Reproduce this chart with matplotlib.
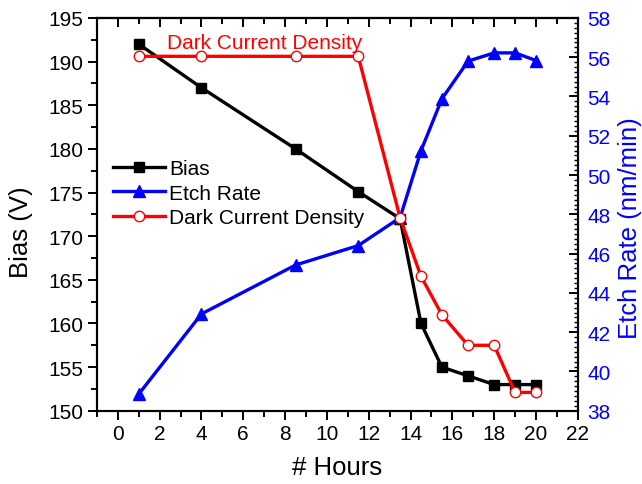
import numpy as np
import matplotlib
matplotlib.use("Agg")
import matplotlib.pyplot as plt
from matplotlib.ticker import MultipleLocator

plt.rcParams["font.family"] = ["Liberation Sans", "DejaVu Sans"]

hours = [1, 4, 8.5, 11.5, 13.5, 14.5, 15.5, 16.75, 18, 19, 20]
bias = [192, 187, 180, 175.1, 172, 160, 155, 154, 153, 153, 153]
dark_current = [190.6, 190.6, 190.6, 190.6, 172.1, 165.4, 161, 157.5, 157.5, 152.1, 152.1]
etch_rate = [38.85, 42.93, 45.42, 46.41, 47.83, 51.24, 53.88, 55.8, 56.22, 56.22, 55.83]

fig = plt.figure(figsize=(6.42, 4.85), dpi=100, facecolor="white")
ax = fig.add_axes([0.151, 0.151, 0.749, 0.810])
ax2 = ax.twinx()
ax.set_zorder(ax2.get_zorder() + 1)
ax.patch.set_visible(False)

lb, = ax.plot(hours, bias, "-s", color="black", lw=2.4, ms=7, label="Bias")
le, = ax2.plot(hours, etch_rate, "-^", color="blue", lw=2.4, ms=8.5, label="Etch Rate")
ld, = ax.plot(hours, dark_current, "-o", color="red", lw=2.4, ms=7.5, mfc="white",
              mec="red", mew=1.0, label="Dark Current Density")

ax.set_xlim(-1, 22)
ax.set_ylim(150, 195)
ax2.set_ylim(38, 58)

ax.xaxis.set_major_locator(MultipleLocator(2))
ax.xaxis.set_minor_locator(MultipleLocator(1))
ax.yaxis.set_major_locator(MultipleLocator(5))
ax.yaxis.set_minor_locator(MultipleLocator(2.5))
ax2.yaxis.set_major_locator(MultipleLocator(2))
ax2.yaxis.set_minor_locator(MultipleLocator(0.25))

for a in (ax, ax2):
    for s in a.spines.values():
        s.set_linewidth(1.5)
ax.tick_params(axis="both", which="major", direction="out", length=6.5, width=1.4,
               labelsize=15, pad=3)
ax.tick_params(axis="both", which="minor", direction="out", length=4, width=1.4)
ax2.tick_params(axis="y", which="major", direction="in", length=6.5, width=1.4,
                labelsize=15, labelcolor="blue", pad=7)
ax2.tick_params(axis="y", which="minor", direction="in", length=3, width=1.0)

# inward ticks along the top spine
top = ax.secondary_xaxis("top")
top.xaxis.set_major_locator(MultipleLocator(2))
top.xaxis.set_minor_locator(MultipleLocator(1))
top.tick_params(which="major", direction="in", length=6.5, width=1.4, labeltop=False)
top.tick_params(which="minor", direction="in", length=4, width=1.4)
top.spines["top"].set_linewidth(1.5)

ax.set_xlabel("# Hours", fontsize=18.5, labelpad=9)
ax.set_ylabel("Bias (V)", fontsize=18.5, labelpad=11)
ax2.set_ylabel("Etch Rate (nm/min)", fontsize=18.5, color="blue", labelpad=5)
ax.yaxis.label.set_y(0.458)
ax2.yaxis.label.set_y(0.468)

ax.text(7.0, 192.2, "Dark Current Density", color="red", fontsize=15,
        ha="center", va="center")

ax.legend(handles=[lb, le, ld], loc="center left", bbox_to_anchor=(0.033, 0.554),
          frameon=False, fontsize=15, handlelength=2.5, handletextpad=0.2,
          labelspacing=0.28, borderpad=0, borderaxespad=0)

fig.savefig("out.png", dpi=100)
